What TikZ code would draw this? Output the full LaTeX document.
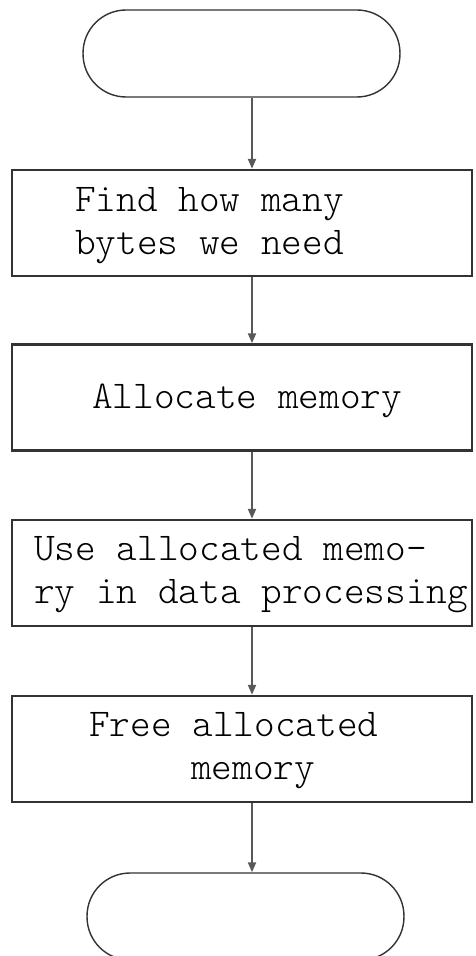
\documentclass[tikz,border=0pt]{standalone}
\usepackage{fontspec}
\usetikzlibrary{arrows.meta}
\newfontfamily\flowfont{lmmonolt10-regular.otf}
\begin{document}
\begin{tikzpicture}[x=0.02cm,y=-0.02cm,>={Triangle[length=0.2cm,width=0.16cm]}]
\tikzset{
 term/.style={draw=black!80,line width=0.8pt,rounded corners=0.86cm,
  minimum width=6.34cm,minimum height=1.74cm,inner sep=0pt},
 procbox/.style={draw=black!80,line width=1.4pt,minimum width=9.2cm,
  minimum height=2.12cm,inner sep=0pt},
 txt/.style={anchor=west,align=left,inner sep=0pt,
  font=\flowfont\fontsize{22.4}{24.6}\selectfont},
 flow/.style={->,draw=black!65,line width=1.2pt}
}
\useasboundingbox (0,0) rectangle (476,956);
\coordinate (spine) at (252,0);
% terminals and steps
\node[term] (start) at (241.5,53.5) {};
\node[procbox] (find) at (242,223) {};
\node[procbox] (alloc) at (242,397.5) {};
\node[procbox] (use) at (242,573) {};
\node[procbox] (free) at (242,749) {};
\node[term] (stop) at (245.5,916.5) {};
% texts
\node[txt] (findtxt) at ([xshift=1.28cm,yshift=-0.06cm]find.west) {Find how many\\bytes we need};
\node[txt] (alloctxt) at ([xshift=1.62cm,yshift=-0.06cm]alloc.west) {Allocate memory};
\node[txt] (usetxt) at ([xshift=0.46cm,yshift=-0.04cm]use.west) {Use allocated memo-\\ry in data processing};
\node[txt] (freetxt) at ([xshift=1.56cm,yshift=-0.04cm]free.west) {Free allocated\\\hspace*{2.04cm}memory};
% arrows
\draw[flow] (start.south -| spine) -- (find.north -| spine);
\draw[flow] (find.south -| spine) -- (alloc.north -| spine);
\draw[flow] (alloc.south -| spine) -- (use.north -| spine);
\draw[flow] (use.south -| spine) -- (free.north -| spine);
\draw[flow] (free.south -| spine) -- (stop.north -| spine);
\end{tikzpicture}
\end{document}
